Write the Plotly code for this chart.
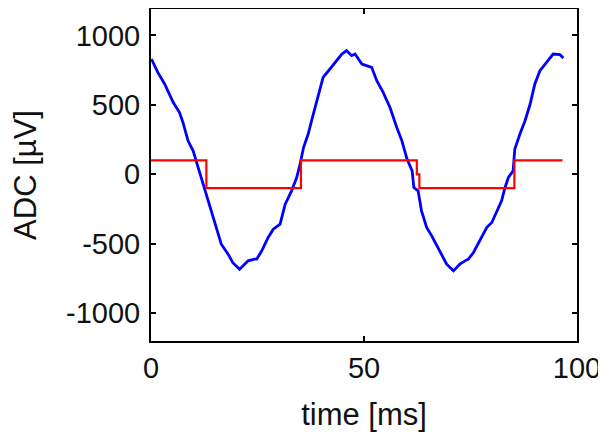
import plotly.graph_objects as go

# blue trace: ADC signal (time in ms, value in uV)
adc_time = [0.1, 1.6, 3.2, 5.2, 6.7, 7.5, 8.7, 9.9, 10.6, 11.8, 13.0, 14.2, 15.3,
            16.5, 18.1, 19.2, 20.8, 22.8, 24.3, 24.8, 26.0, 27.5, 28.7, 30.3, 31.5,
            33.0, 34.2, 35.0, 35.8, 36.9, 37.7, 38.5, 39.7, 40.4, 42.0, 43.6, 44.8,
            45.9, 47.1, 47.9, 49.1, 49.5, 51.8, 53.0, 54.5, 56.1, 57.7, 58.9, 60.1,
            61.3, 61.7, 62.7, 63.5, 64.7, 65.9, 67.4, 69.4, 71.0, 72.5, 73.7, 74.5,
            75.7, 77.2, 78.8, 80.0, 81.2, 82.3, 83.1, 83.9, 85.0, 85.4, 86.6, 87.8,
            89.0, 90.1, 91.3, 92.9, 94.4, 96.0, 96.8]
adc_value = [830, 734, 650, 518, 445, 373, 241, 169, 97, -23, -143, -263, -383,
             -503, -575, -636, -683, -623, -611, -611, -551, -455, -395, -359, -215,
             -119, -23, 73, 193, 290, 386, 481, 626, 698, 758, 818, 866,
             890, 854, 866, 818, 794, 770, 674, 590, 481, 337, 241, 110,
             25, -95, -119, -263, -383, -443, -527, -647, -695, -647, -623, -611,
             -563, -479, -383, -347, -263, -191, -95, -23, 25, 182, 290, 386,
             506, 650, 746, 806, 866, 861, 837]

# red trace: square reference signal
ref_time = [0, 13.0, 35.2, 62.4, 63.0, 85.3, 96.6]
ref_value = [100, -100, 100, 0, -100, 100, 100]

x_ticks = [0, 50, 100]
y_ticks = [-1000, -500, 0, 500, 1000]
y_labels = ["-1000", "-500", "0", "500", "1000"]

fig = go.Figure()
fig.add_trace(go.Scatter(x=adc_time, y=adc_value, mode="lines",
                         line=dict(color="#0000ff", width=2.8)))
fig.add_trace(go.Scatter(x=ref_time, y=ref_value, mode="lines",
                         line=dict(color="#ff0000", width=2.2, shape="hv")))

axis_style = dict(showgrid=False, zeroline=False, showline=True, linecolor="black",
                  linewidth=2, mirror="ticks", ticks="inside", ticklen=5,
                  tickwidth=1.5, tickcolor="black", automargin=False,
                  tickfont=dict(size=29, color="#111111"))

fig.update_xaxes(range=[0, 100], tickvals=x_ticks,
                 title=dict(text="time [ms]", font=dict(size=31, color="#111111"), standoff=21),
                 **axis_style)
fig.update_yaxes(range=[-1200, 1190], tickvals=y_ticks, ticktext=y_labels,
                 ticklabelstandoff=3,
                 title=dict(text="ADC [µV]", font=dict(size=31, color="#111111"), standoff=20),
                 **axis_style)

# the page body adds an 8px margin, so the figure is a bit smaller than the window
fig.update_layout(width=598, height=429, showlegend=False,
                  font=dict(family="Liberation Sans, Arial, sans-serif"),
                  plot_bgcolor="white", paper_bgcolor="white",
                  margin=dict(l=143, r=29, t=1, b=96))

fig.write_html("out.html")
